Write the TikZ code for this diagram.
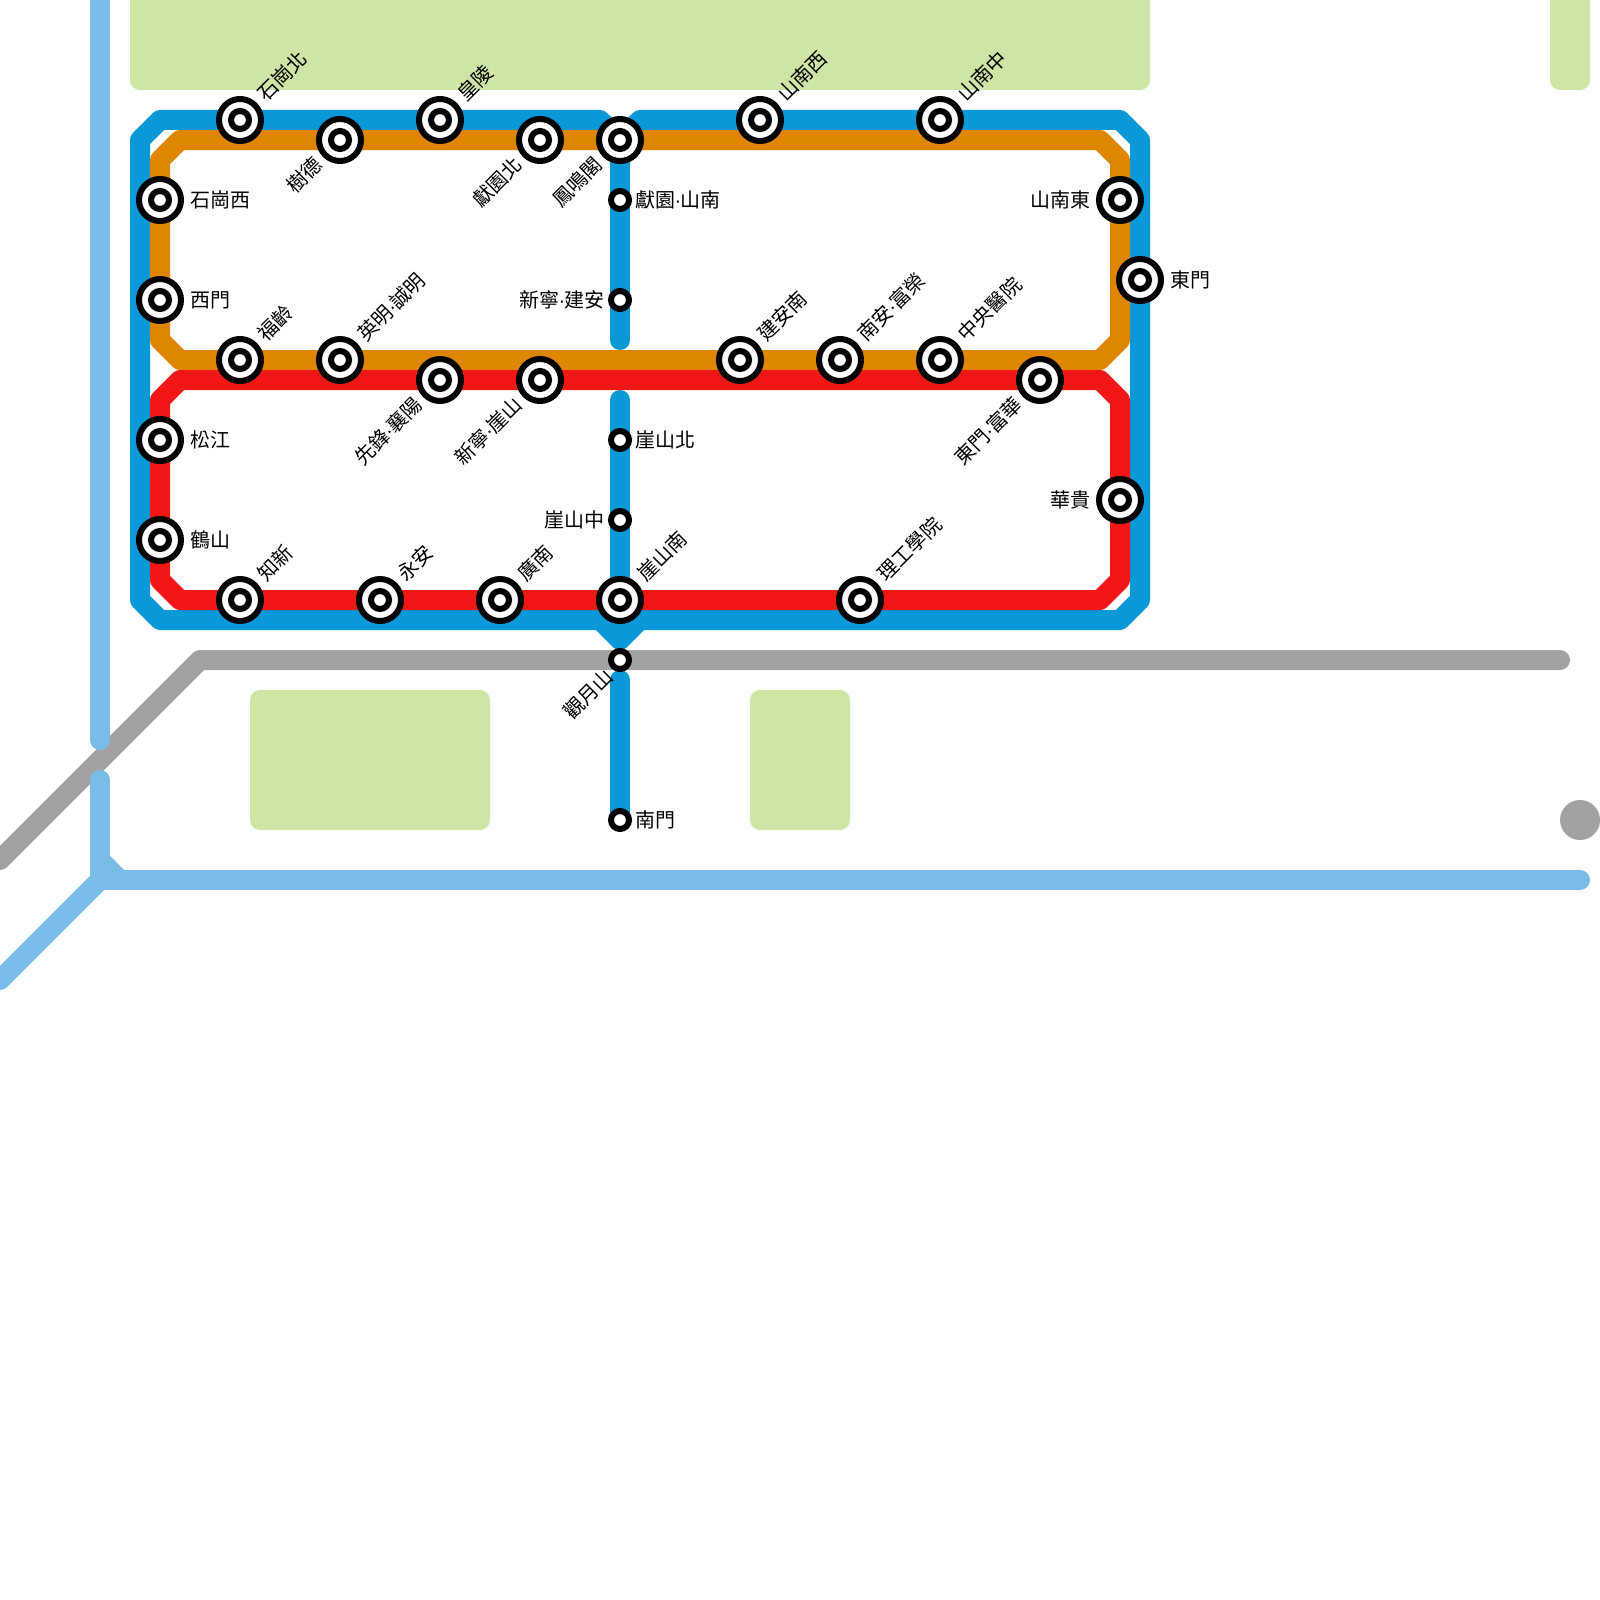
\documentclass[tikz,border=0pt]{standalone}
\usepackage{fontspec}
\setmainfont{Noto Sans CJK TC}
\newfontfamily\dotfont{Liberation Sans}
\newcommand{\dt}{\kern-0.6pt{\dotfont ·}\kern-0.6pt}
\definecolor{mblue}{RGB}{9,152,216}
\definecolor{morange}{RGB}{223,134,0}
\definecolor{mred}{RGB}{241,23,23}
\definecolor{mlight}{RGB}{122,188,232}
\definecolor{mgrey}{RGB}{162,162,162}
\definecolor{mgreen}{RGB}{207,229,166}
\tikzset{
  route/.style={line width=20pt,line cap=round,line join=round},
  park/.style={fill=mgreen,rounded corners=10pt},
  ringbig/.style={circle,draw=black,fill=white,line width=6pt,minimum size=42pt,inner sep=0pt},
  ringsmall/.style={circle,draw=black,fill=white,line width=6pt,minimum size=18pt,inner sep=0pt},
  txt/.style={font=\fontsize{20pt}{20pt}\selectfont,inner sep=0pt,text height=16pt,text depth=2pt},
  lblR/.style={txt,anchor=west},
  lblL/.style={txt,anchor=east},
  lblUR/.style={txt,anchor=west,rotate=45},
  lblLL/.style={txt,anchor=east,rotate=45}
}
\newcommand{\bigst}[3]{\node[ringbig] (#1) at (#2,#3) {}; \node[ringsmall] (#1c) at (#1) {};}
\newcommand{\smallst}[3]{\node[ringsmall] (#1) at (#2,#3) {};}
\begin{document}
\begin{tikzpicture}[x=1pt,y=-1pt]
\useasboundingbox (0,0) rectangle (1600,1600);
\fill[white] (0,0) rectangle (1600,1600);
\clip (0,0) rectangle (1600,1600);
% parks
\fill[park] (130,-30) rectangle (1150,90);
\fill[park] (1550,-30) rectangle (1590,90);
\fill[park] (250,690) rectangle (490,830);
\fill[park] (750,690) rectangle (850,830);
% outside lines
\coordinate (gE) at (1560,660); \coordinate (gC) at (200,660); \coordinate (gW) at (0,860);
\coordinate (lN) at (100,-20); \coordinate (lA) at (100,740); \coordinate (lB) at (100,780);
\coordinate (lJ) at (100,880); \coordinate (lF) at (100,860); \coordinate (lG) at (120,880);
\coordinate (lE) at (1580,880); \coordinate (lW) at (0,980);
\draw[route,mgrey] (gE) -- (gC) -- (gW);
\node[circle,fill=mgrey,minimum size=40pt,inner sep=0pt] (greydot) at (1580,820) {};
\draw[route,mlight] (lN) -- (lA);
\draw[route,mlight] (lB) -- (lJ) -- (lE);
\draw[route,mlight] (lJ) -- (lW);
\draw[route,mlight,line cap=butt] (lF) -- (lG);
% loop corners
\coordinate (b1) at (600,120); \coordinate (b2) at (160,120); \coordinate (b3) at (140,140);
\coordinate (b4) at (140,600); \coordinate (b5) at (160,620); \coordinate (b6) at (1120,620);
\coordinate (b7) at (1140,600); \coordinate (b8) at (1140,140); \coordinate (b9) at (1120,120);
\coordinate (b10) at (640,120); \coordinate (bT) at (620,140); \coordinate (bJ) at (620,640);
\coordinate (bL) at (600,620); \coordinate (bR) at (640,620);
\coordinate (bs1) at (620,340); \coordinate (bs2) at (620,400); \coordinate (bs3) at (620,620);
\coordinate (bs4) at (620,680); \coordinate (bs5) at (620,820);
\draw[route,mblue] (bT) -- (b1) -- (b2) -- (b3) -- (b4) -- (b5) -- (b6) -- (b7) -- (b8) -- (b9) -- (b10) -- (bT);
\draw[route,mblue] (bT) -- (bs1);
\draw[route,mblue] (bs2) -- (bs3);
\draw[route,mblue] (bL) -- (bJ) -- (bR);
\draw[route,mblue] (bs4) -- (bs5);
% orange
\draw[route,morange] (160,160) -- (180,140) -- (1100,140) -- (1120,160) -- (1120,340) -- (1100,360) -- (180,360) -- (160,340) -- cycle;
% red
\draw[route,mred] (160,400) -- (180,380) -- (1100,380) -- (1120,400) -- (1120,580) -- (1100,600) -- (180,600) -- (160,580) -- cycle;
% stations
\bigst{a1}{240}{120} \node[lblUR] (ta1) at (261.5,98) {石崗北};
\bigst{a2}{340}{140} \node[lblLL] (ta2) at (319,161) {樹德};
\bigst{a3}{440}{120} \node[lblUR] (ta3) at (461.5,98) {皇陵};
\bigst{a4}{540}{140} \node[lblLL] (ta4) at (519,161) {獻園北};
\bigst{a5}{620}{140} \node[lblLL] (ta5) at (599,161) {鳳鳴閣};
\bigst{a6}{760}{120} \node[lblUR] (ta6) at (781.5,98) {山南西};
\bigst{a7}{940}{120} \node[lblUR] (ta7) at (961.5,98) {山南中};
\bigst{b1s}{160}{200} \node[lblR] (tb1) at (190,200) {石崗西};
\bigst{b2s}{160}{300} \node[lblR] (tb2) at (190,300) {西門};
\bigst{b3s}{160}{440} \node[lblR] (tb3) at (190,440) {松江};
\bigst{b4s}{160}{540} \node[lblR] (tb4) at (190,540) {鶴山};
\bigst{c1}{240}{360} \node[lblUR] (tc1) at (261.5,338) {福齡};
\bigst{c2}{340}{360} \node[lblUR] (tc2) at (361.5,338) {英明\dt 誠明};
\bigst{c3}{440}{380} \node[lblLL] (tc3) at (419,401) {先鋒\dt 襄陽};
\bigst{c4}{540}{380} \node[lblLL] (tc4) at (519,401) {新寧\dt 崖山};
\bigst{c5}{740}{360} \node[lblUR] (tc5) at (761.5,338) {建安南};
\bigst{c6}{840}{360} \node[lblUR] (tc6) at (861.5,338) {南安\dt 富榮};
\bigst{c7}{940}{360} \node[lblUR] (tc7) at (961.5,338) {中央醫院};
\bigst{c8}{1040}{380} \node[lblLL] (tc8) at (1019,401) {東門\dt 富華};
\bigst{d1}{1120}{200} \node[lblL] (td1) at (1091,200) {山南東};
\bigst{d2}{1140}{280} \node[lblR] (td2) at (1170,280) {東門};
\bigst{d3}{1120}{500} \node[lblL] (td3) at (1091,500) {華貴};
\bigst{e1}{240}{600} \node[lblUR] (te1) at (261.5,578) {知新};
\bigst{e2}{380}{600} \node[lblUR] (te2) at (401.5,578) {永安};
\bigst{e3}{500}{600} \node[lblUR] (te3) at (521.5,578) {廣南};
\bigst{e4}{620}{600} \node[lblUR] (te4) at (641.5,578) {崖山南};
\bigst{e5}{860}{600} \node[lblUR] (te5) at (881.5,578) {理工學院};
\smallst{f1}{620}{200} \node[lblR] (tf1) at (635,200) {獻園\dt 山南};
\smallst{f2}{620}{300} \node[lblL] (tf2) at (605,300) {新寧\dt 建安};
\smallst{f3}{620}{440} \node[lblR] (tf3) at (635,440) {崖山北};
\smallst{f4}{620}{520} \node[lblL] (tf4) at (605,520) {崖山中};
\smallst{f5}{620}{660} \node[lblLL] (tf5) at (610,673) {觀月山};
\smallst{f6}{620}{820} \node[lblR] (tf6) at (635,820) {南門};
\end{tikzpicture}
\end{document}
